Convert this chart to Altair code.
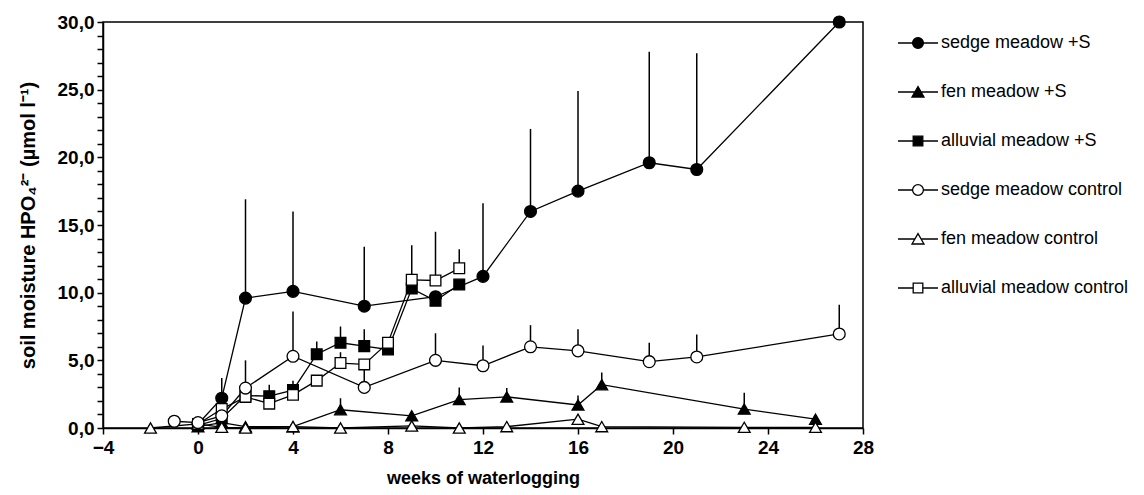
import altair as alt
import pandas as pd

FONT = "Liberation Sans"

series = ["sedge meadow +S", "fen meadow +S", "alluvial meadow +S",
          "sedge meadow control", "fen meadow control", "alluvial meadow control"]

# weeks of waterlogging, mean values and top of the error bar (None = no bar)
sedge_s_x = [0, 1, 2, 4, 7, 10, 12, 14, 16, 19, 21, 27]
sedge_s_y = [0.3, 2.2, 9.6, 10.1, 9.0, 9.7, 11.2, 16.0, 17.5, 19.6, 19.1, 30.0]
sedge_s_top = [None, 3.7, 16.9, 16.0, 13.4, None, 16.6, 22.1, 24.9, 27.8, 27.7, None]

fen_s_x = [0, 1, 2, 4, 6, 9, 11, 13, 16, 17, 23, 26]
fen_s_y = [0.1, 0.4, 0.1, 0.1, 1.35, 0.9, 2.1, 2.3, 1.7, 3.2, 1.4, 0.65]
fen_s_top = [None, None, None, None, 2.2, None, 3.0, 2.95, 2.4, 4.1, 2.6, None]

alluv_s_x = [0, 1, 2, 3, 4, 5, 6, 7, 8, 9, 10, 11]
alluv_s_y = [0.2, 0.7, 2.4, 2.35, 2.8, 5.45, 6.3, 6.05, 5.8, 10.3, 9.4, 10.6]
alluv_s_top = [None, None, None, 3.2, 3.5, 6.4, 7.5, 7.3, None, None, None, None]

sedge_c_x = [-1, 0, 1, 2, 4, 7, 10, 12, 14, 16, 19, 21, 27]
sedge_c_y = [0.5, 0.4, 0.9, 2.95, 5.3, 3.0, 5.0, 4.6, 6.0, 5.7, 4.9, 5.25, 6.95]
sedge_c_top = [None, None, None, 5.0, 8.6, 4.8, 7.0, 6.1, 7.6, 7.3, 6.3, 6.9, 9.1]

fen_c_x = [-2, 0, 1, 2, 4, 6, 9, 11, 13, 16, 17, 23, 26]
fen_c_y = [0.0, 0.3, 0.05, 0.0, 0.1, 0.0, 0.15, 0.0, 0.1, 0.65, 0.1, 0.05, 0.05]
fen_c_top = [None] * 13

alluv_c_x = [0, 1, 2, 3, 4, 5, 6, 7, 8, 9, 10, 11]
alluv_c_y = [0.3, 1.4, 2.3, 1.8, 2.45, 3.5, 4.8, 4.7, 6.3, 10.95, 10.9, 11.8]
alluv_c_top = [None, None, None, None, None, None, 5.6, None, None, 13.5, 14.5, 13.2]

x_ticks = [-4, 0, 4, 8, 12, 16, 20, 24, 28]
y_ticks = list(range(0, 31))

# marker styles per series
shape_of = dict(zip(series, ["circle", "triangle-up", "square"] * 2))
fill_of = dict(zip(series, ["black"] * 3 + ["white"] * 3))
size_of = dict(zip(series, [140, 140, 115] * 2))

# drawing order (later rows are drawn on top)
groups = [
    ("alluvial meadow +S", alluv_s_x, alluv_s_y, alluv_s_top),
    ("fen meadow +S", fen_s_x, fen_s_y, fen_s_top),
    ("sedge meadow +S", sedge_s_x, sedge_s_y, sedge_s_top),
    ("alluvial meadow control", alluv_c_x, alluv_c_y, alluv_c_top),
    ("fen meadow control", fen_c_x, fen_c_y, fen_c_top),
    ("sedge meadow control", sedge_c_x, sedge_c_y, sedge_c_top),
]
rows = []
for name, xs, ys, tops in groups:
    for x, y, t in zip(xs, ys, tops):
        rows.append({"series": name, "week": x, "value": y, "top": t,
                     "marker": shape_of[name], "fillc": fill_of[name],
                     "msize": size_of[name]})
df = pd.DataFrame(rows)

# legend symbols: marker with a short line on each side
circ = "M-1,0L-0.27,0M0.27,0L1,0M-0.27,0A0.27,0.27 0 1,1 0.27,0A0.27,0.27 0 1,1 -0.27,0Z"
tri = "M-1,0L-0.15,0M0.15,0L1,0M0,-0.27L0.3,0.25L-0.3,0.25Z"
sq = "M-1,0L-0.24,0M0.24,0L1,0M-0.24,-0.24L0.24,-0.24L0.24,0.24L-0.24,0.24Z"
legend_shapes = [circ, tri, sq, circ, tri, sq]
legend_fills = ["black"] * 3 + ["white"] * 3

xscale = alt.Scale(domain=[-4, 28], nice=False, zero=False)
yscale = alt.Scale(domain=[0, 30], nice=False)

x_enc = alt.X("week:Q", scale=xscale, title="weeks of waterlogging",
              axis=alt.Axis(values=x_ticks, labelFlush=False, labelOverlap=False,
                            grid=False, tickSize=6, labelPadding=4,
                            labelFontSize=19, labelFontWeight="bold",
                            titleFontSize=18, titleFontWeight="bold", titlePadding=12))
y_enc = alt.Y("value:Q", scale=yscale,
              title="soil moisture  HPO₄²⁻ (µmol l⁻¹)",
              axis=alt.Axis(values=y_ticks, grid=False, tickSize=6, labelPadding=3,
                            labelExpr="datum.value % 5 == 0 ? replace(format(datum.value, '.1f'), '.', ',') : ''",
                            labelFlush=False, labelOverlap=False,
                            labelFontSize=19, labelFontWeight="bold",
                            titleFontSize=20, titleFontWeight="bold", titlePadding=19))

base = alt.Chart(df)

rules = base.transform_filter("isValid(datum.top)").mark_rule(
    color="black", strokeWidth=1.5
).encode(x=x_enc, y=y_enc, y2="top:Q")

lines = base.mark_line(color="black", strokeWidth=1.3).encode(
    x=x_enc, y=y_enc, detail="series:N", order="week:Q"
)

points = base.mark_point(filled=True, stroke="black", strokeWidth=1.3, opacity=1).encode(
    x=x_enc, y=y_enc,
    shape=alt.Shape("marker:N", scale=None),
    fill=alt.Fill("fillc:N", scale=None),
    size=alt.Size("msize:Q", scale=None),
)

leg = alt.Legend(title=None, orient="none", legendX=794, legendY=0,
                 labelFontSize=18, labelFont=FONT, labelColor="black",
                 labelLimit=0, labelOffset=2, rowPadding=19,
                 symbolSize=1600, symbolStrokeWidth=1.3,
                 symbolStrokeColor="black", padding=0)

legend_layer = base.transform_filter("false").mark_point(
    filled=True, stroke="black", strokeWidth=1.3, opacity=1, size=1600
).encode(
    x=x_enc, y=y_enc,
    shape=alt.Shape("series:N", scale=alt.Scale(domain=series, range=legend_shapes), legend=leg),
    fill=alt.Fill("series:N", scale=alt.Scale(domain=series, range=legend_fills), legend=leg),
)

chart = alt.layer(rules, lines, points, legend_layer).properties(
    width=760, height=406,
    autosize=alt.AutoSizeParams(type="none"),
    padding={"left": 95, "top": 14, "right": 273, "bottom": 60},
).configure(font=FONT).configure_view(
    stroke="black", strokeWidth=1.5
).configure_axis(
    domainColor="black", domainWidth=1.5, tickColor="black", tickWidth=1.5,
    labelColor="black", titleColor="black", labelFont=FONT, titleFont=FONT
)

chart.save("out.html", embed_options={"renderer": "svg", "actions": False})
